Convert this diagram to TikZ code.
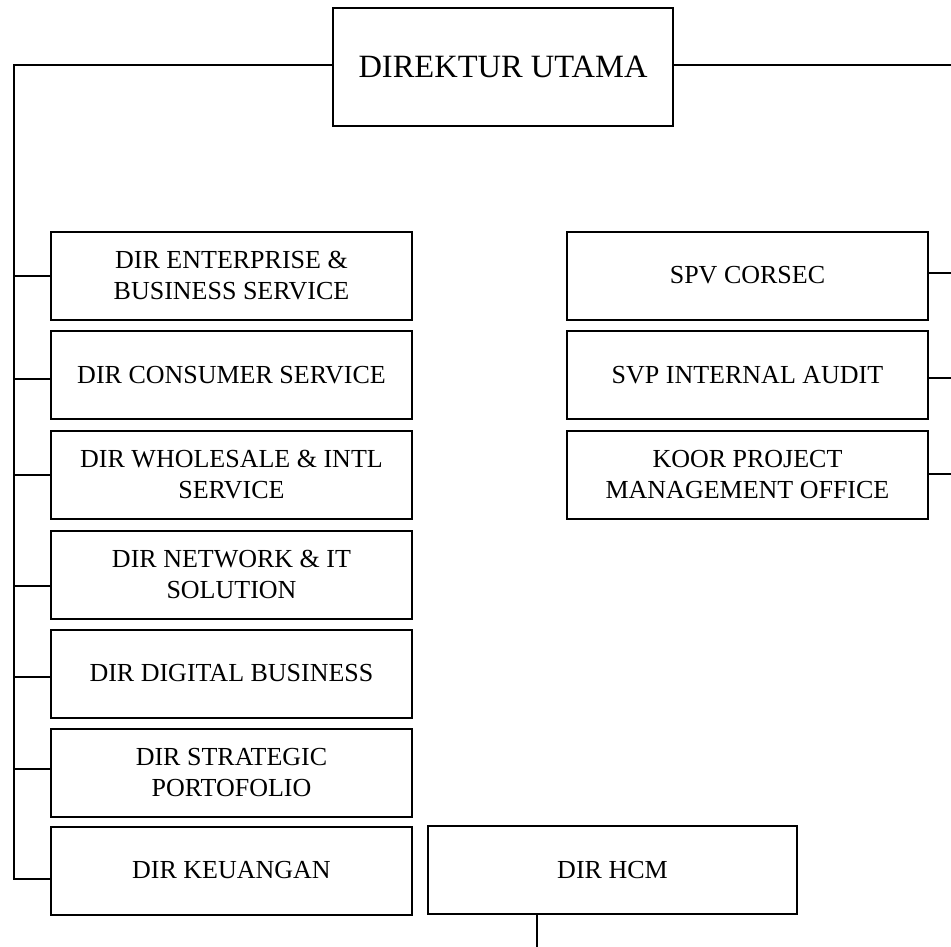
\documentclass[tikz,border=0pt]{standalone}
\usepackage{fontspec}
\setmainfont{Liberation Serif}

\begin{document}
\begin{tikzpicture}[x=1pt,y=-1pt,
    box/.style={draw,line width=2pt,minimum width=361pt,minimum height=88pt,
      inner sep=0pt,align=center,font=\fontsize{26}{31}\selectfont},
    link/.style={line width=2pt,line cap=rect}]
  \useasboundingbox (0,0) rectangle (951,947);

  \node[box,minimum width=340pt,minimum height=118pt,
    font=\fontsize{32.5}{38}\selectfont] (dirut) at (503,67) {DIREKTUR UTAMA};

  % left column
  \node[box] (ent) at (231.5,275.5) {DIR ENTERPRISE \&\\BUSINESS SERVICE};
  \node[box] (con) at (231.5,375) {DIR CONSUMER SERVICE};
  \node[box] (whl) at (231.5,475) {DIR WHOLESALE \& INTL\\SERVICE};
  \node[box] (net) at (231.5,574.5) {DIR NETWORK \& IT\\SOLUTION};
  \node[box] (dig) at (231.5,673.5) {DIR DIGITAL BUSINESS};
  \node[box] (str) at (231.5,773) {DIR STRATEGIC\\PORTOFOLIO};
  \node[box] (keu) at (231.5,870.5) {DIR KEUANGAN};
  \node[box,minimum width=369pt] (hcm) at (612.5,870) {DIR HCM};

  % right column
  \node[box] (corsec) at (747.5,275.5) {SPV CORSEC};
  \node[box] (audit) at (747.5,375) {SVP INTERNAL AUDIT};
  \node[box] (pmo) at (747.5,475) {KOOR PROJECT\\MANAGEMENT OFFICE};

  \coordinate (spine) at (14,65);
  \coordinate (rim) at (951,65);
  \coordinate (hcmdown) at (537,947);

  \draw[link] ([yshift=2pt]dirut.west) -- (spine) -- ([yshift=-8.5pt]keu.west -| spine);
  \draw[link] ([yshift=2pt]dirut.east) -- (rim);
  \foreach \n/\dy in {ent/0,con/-4,whl/0,net/-11.5,dig/-3.5,str/4,keu/-8.5}
    \draw[link] ([yshift=\dy pt]\n.west) -- ([yshift=\dy pt]\n.west -| spine);
  \foreach \n/\dy in {corsec/2.5,audit/-3,pmo/1}
    \draw[link] ([yshift=\dy pt]\n.east) -- ([yshift=\dy pt]\n.east -| rim);
  \draw[link] (hcm.south -| hcmdown) -- (hcmdown);
\end{tikzpicture}
\end{document}
